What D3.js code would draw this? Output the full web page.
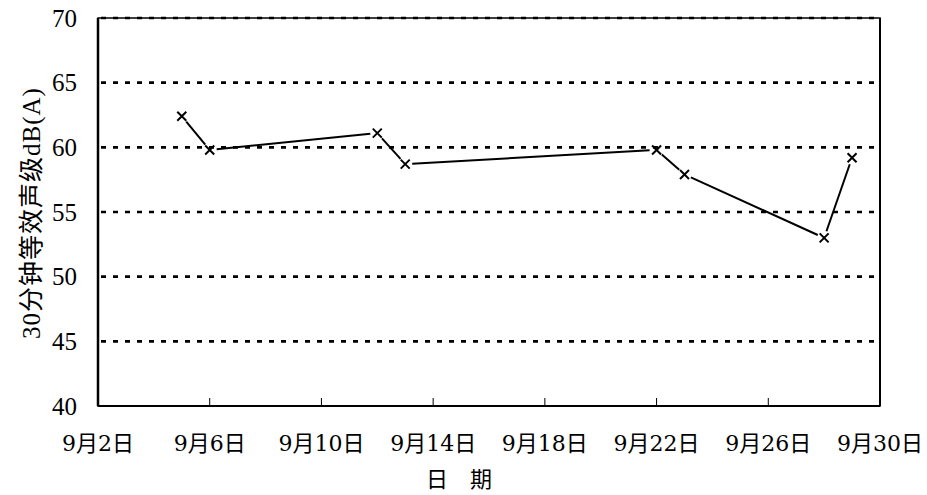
<!DOCTYPE html>
<html>
<head>
<meta charset="utf-8">
<title>30分钟等效声级</title>
<style>
body, html { margin: 0; padding: 0; background: #fff; }
svg { display: block; }
.tick-y { font-family: "Liberation Serif", serif; font-size: 25px; }
.tick-x { font-family: "DejaVu Serif", "Noto Sans CJK SC", serif; font-size: 22px; }
.title { font-family: "Liberation Serif", "Noto Sans CJK SC", serif; }
</style>
<script src="https://d3js.org/d3.v7.min.js"></script>
</head>
<body>
<svg id="chart" width="927" height="495"></svg>
<script>
// measured dates (day of September) and levels
var days = [5, 6, 12, 13, 22, 23, 28, 29];
var levels = [62.4, 59.8, 61.1, 58.7, 59.8, 57.9, 53.0, 59.2];
var xTicks = [2, 6, 10, 14, 18, 22, 26, 30];
var yTicks = [40, 45, 50, 55, 60, 65, 70];
var yTitle = "30分钟等效声级dB(A)";
var xTitle = "日\u3000期";

var margin = {top: 18, right: 47, bottom: 89, left: 98};
var width = 927 - margin.left - margin.right;
var height = 495 - margin.top - margin.bottom;

var svg = d3.select("#chart");
var g = svg.append("g").attr("transform", "translate(" + margin.left + "," + margin.top + ")");

var x = d3.scaleLinear().domain([2, 30]).range([0, width]);
var y = d3.scaleLinear().domain([40, 70]).range([height, 0]);

// dotted gridlines
g.selectAll(".grid")
  .data(yTicks.filter(function(d) { return d > 40; }))
  .enter().append("line")
  .attr("class", "grid")
  .attr("x1", 0).attr("x2", width)
  .attr("y1", function(d) { return y(d); })
  .attr("y2", function(d) { return y(d); })
  .attr("stroke", "#000")
  .attr("stroke-width", 2.6)
  .attr("stroke-dasharray", "5,7")
  .attr("stroke-dashoffset", -3);

// plot border
g.append("rect")
  .attr("x", 0).attr("y", 0)
  .attr("width", width).attr("height", height)
  .attr("fill", "none")
  .attr("stroke", "#000")
  .attr("stroke-width", 1.5);
g.append("line").attr("x1", 0).attr("x2", 0).attr("y1", 0).attr("y2", height)
  .attr("stroke", "#000").attr("stroke-width", 2.5);
g.append("line").attr("x1", 0).attr("x2", width).attr("y1", height).attr("y2", height)
  .attr("stroke", "#000").attr("stroke-width", 2.2);
g.append("line").attr("x1", width).attr("x2", width).attr("y1", 0).attr("y2", height)
  .attr("stroke", "#000").attr("stroke-width", 2);

// x ticks (inside) and labels
g.selectAll(".xtick")
  .data(xTicks.slice(1, -1))
  .enter().append("line")
  .attr("class", "xtick")
  .attr("x1", function(d) { return x(d); })
  .attr("x2", function(d) { return x(d); })
  .attr("y1", height).attr("y2", height - 8)
  .attr("stroke", "#000").attr("stroke-width", 1);

g.selectAll(".tick-x")
  .data(xTicks)
  .enter().append("text")
  .attr("class", "tick-x")
  .attr("x", function(d) { return x(d); })
  .attr("y", height + 45)
  .attr("text-anchor", "middle")
  .text(function(d) { return "9月" + d + "日"; });

g.selectAll(".tick-y")
  .data(yTicks)
  .enter().append("text")
  .attr("class", "tick-y")
  .attr("x", -21)
  .attr("y", function(d) { return y(d); })
  .attr("dy", "0.35em")
  .attr("text-anchor", "end")
  .text(function(d) { return d; });

// axis titles
svg.append("text")
  .attr("class", "title")
  .attr("transform", "translate(31,213) rotate(-90)")
  .attr("text-anchor", "middle")
  .attr("dy", "0.35em")
  .attr("font-size", 25)
  .attr("letter-spacing", 1)
  .text(yTitle);

svg.append("text")
  .attr("class", "title")
  .attr("x", 459)
  .attr("y", 487)
  .attr("text-anchor", "middle")
  .attr("font-size", 22)
  .text(xTitle);

// line segments with gaps around the markers
var pts = days.map(function(d, i) { return [x(d), y(levels[i])]; });
var gap = 7;
var segs = d3.pairs(pts).map(function(p) {
  var dx = p[1][0] - p[0][0], dy = p[1][1] - p[0][1];
  var len = Math.sqrt(dx * dx + dy * dy);
  var ux = dx / len, uy = dy / len;
  return [p[0][0] + ux * gap, p[0][1] + uy * gap, p[1][0] - ux * gap, p[1][1] - uy * gap];
});
g.selectAll(".seg")
  .data(segs)
  .enter().append("line")
  .attr("class", "seg")
  .attr("x1", function(s) { return s[0]; })
  .attr("y1", function(s) { return s[1]; })
  .attr("x2", function(s) { return s[2]; })
  .attr("y2", function(s) { return s[3]; })
  .attr("stroke", "#000")
  .attr("stroke-width", 2);

// x markers
var m = 4.5;
g.selectAll(".marker")
  .data(pts)
  .enter().append("path")
  .attr("class", "marker")
  .attr("d", function(p) {
    return "M" + (p[0] - m) + "," + (p[1] - m) + "L" + (p[0] + m) + "," + (p[1] + m) +
           "M" + (p[0] - m) + "," + (p[1] + m) + "L" + (p[0] + m) + "," + (p[1] - m);
  })
  .attr("stroke", "#000")
  .attr("stroke-width", 2)
  .attr("fill", "none");
</script>
</body>
</html>
